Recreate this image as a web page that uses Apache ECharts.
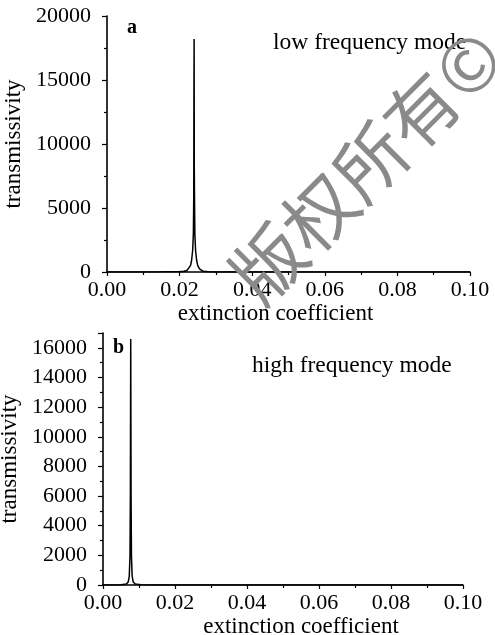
<!DOCTYPE html>
<html>
<head>
<meta charset="utf-8">
<script src="https://cdn.jsdelivr.net/npm/echarts@6/dist/echarts.min.js"></script>
<style>
html,body{margin:0;padding:0;background:#fff;}
#c{width:495px;height:635px;}
</style>
</head>
<body>
<div id="c"></div>
<script>
// Panel a: low frequency mode
var lowX = [0, 0.005, 0.010, 0.015, 0.018, 0.020, 0.021, 0.0215, 0.022, 0.0225, 0.023, 0.0233, 0.0236, 0.0238, 0.0239, 0.02395, 0.0240, 0.02405, 0.0241, 0.0242, 0.0244, 0.0247, 0.025, 0.0255, 0.026, 0.0265, 0.028, 0.030, 0.035, 0.040, 0.050, 0.060, 0.070, 0.080, 0.090, 0.100];
var lowY = [0, 0, 5, 10, 20, 30, 40, 50, 120, 250, 500, 900, 1700, 3000, 6000, 14000, 18200, 8000, 6000, 3000, 1700, 900, 500, 250, 120, 50, 15, 8, 4, 2, 1, 1, 0, 0, 0, 0];
// Panel b: high frequency mode
var highX = [0, 0.003, 0.005, 0.0065, 0.007, 0.0073, 0.0075, 0.0076, 0.0077, 0.0078, 0.0079, 0.0081, 0.0084, 0.009, 0.0105, 0.015, 0.020, 0.040, 0.060, 0.080, 0.090, 0.100];
var highY = [0, 5, 10, 60, 200, 600, 2000, 6000, 16600, 6000, 2000, 600, 200, 60, 10, 5, 2, 0, 0, 0, 0, 0];
var xTicks = ['0.00', '0.02', '0.04', '0.06', '0.08', '0.10'];
var panelLabels = ['a', 'b'];
var modeLabels = ['low frequency mode', 'high frequency mode'];
var yName = 'transmissivity';
var xName = 'extinction coefficient';
var watermark = '版权所有©';

var font = 'Liberation Serif, Times New Roman, serif';
function pairs(xs, ys) { return xs.map(function (x, i) { return [x, ys[i]]; }); }

function xAxisCfg(gi, pad) {
  return {
    type: 'value', gridIndex: gi, min: 0, max: 0.1, interval: 0.02,
    axisLine: { show: true, lineStyle: { color: '#000', width: 1.6 } },
    axisTick: { show: true, inside: false, length: 4, lineStyle: { color: '#000', width: 1.2 } },
    minorTick: { show: true, splitNumber: 2, length: 3, lineStyle: { color: '#000', width: 1.2 } },
    splitLine: { show: false },
    axisLabel: { color: '#000', fontFamily: font, fontSize: 22, margin: 7,
      formatter: function (v) { return xTicks[Math.round(v / 0.02)]; } },
    name: xName, nameLocation: 'middle', nameGap: 30,
    nameTextStyle: { color: '#000', fontFamily: font, fontSize: 23, padding: pad }
  };
}
function yAxisCfg(gi, max, interval) {
  return {
    type: 'value', gridIndex: gi, min: 0, max: max, interval: interval,
    axisLine: { show: true, lineStyle: { color: '#000', width: 1.6 } },
    axisTick: { show: true, inside: false, length: 5, lineStyle: { color: '#000', width: 1.2 } },
    minorTick: { show: true, splitNumber: 2, length: 3, lineStyle: { color: '#000', width: 1.2 } },
    splitLine: { show: false },
    axisLabel: { color: '#000', fontFamily: font, fontSize: 22, margin: 16,
      showMaxLabel: max % interval === 0,
      formatter: function (v) { return String(v); } },
    name: yName, nameLocation: 'middle', nameGap: 76, nameRotate: 90,
    nameTextStyle: { color: '#000', fontFamily: font, fontSize: 23 }
  };
}

var chart = echarts.init(document.getElementById('c'), null, { renderer: 'canvas' });
chart.setOption({
  backgroundColor: '#fff',
  animation: false,
  grid: [
    { left: 107, right: 25, top: 16, bottom: 363, containLabel: false, outerBoundsMode: 'none' },
    { left: 103, right: 32, top: 333, bottom: 50, containLabel: false, outerBoundsMode: 'none' }
  ],
  xAxis: [xAxisCfg(0, [0, 26, 0, 0]), xAxisCfg(1, [0, 0, 0, 36])],
  yAxis: [yAxisCfg(0, 20000, 5000), yAxisCfg(1, 17000, 2000)],
  series: [
    { type: 'line', xAxisIndex: 0, yAxisIndex: 0, data: pairs(lowX, lowY), showSymbol: false,
      lineStyle: { color: '#000', width: 1.5 }, smooth: false },
    { type: 'line', xAxisIndex: 1, yAxisIndex: 1, data: pairs(highX, highY), showSymbol: false,
      lineStyle: { color: '#000', width: 1.5 }, smooth: false }
  ],
  graphic: [
    { type: 'text', left: 127, top: 18, style: { text: panelLabels[0], font: 'bold 20px ' + font, fill: '#000' } },
    { type: 'text', left: 113, top: 338, style: { text: panelLabels[1], font: 'bold 20px ' + font, fill: '#000' } },
    { type: 'text', left: 273, top: 31, style: { text: modeLabels[0], font: '23.5px ' + font, fill: '#000' } },
    { type: 'text', left: 252, top: 354, style: { text: modeLabels[1], font: '23.5px ' + font, fill: '#000' } },
    { type: 'text', x: 366, y: 166, rotation: Math.PI / 4, z: 100,
      style: { text: watermark, font: '72px "Noto Sans CJK SC"', fill: '#8a8a8a', align: 'center', verticalAlign: 'middle' } }
  ]
});
</script>
</body>
</html>
